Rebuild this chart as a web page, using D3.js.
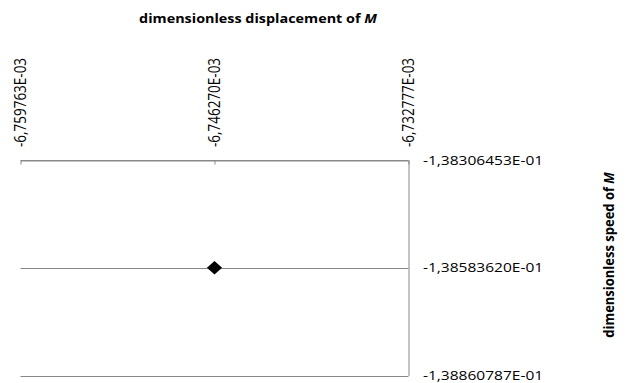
<!DOCTYPE html>
<html>
<head>
<meta charset="utf-8">
<script src="https://cdn.jsdelivr.net/npm/d3@7"></script>
<style>
  html, body { margin: 0; padding: 0; background: #fff; }
  svg { display: block; }
  text { font-family: "Open Sans", "DejaVu Sans", sans-serif; fill: #000; }
</style>
</head>
<body>
<svg id="chart" width="630" height="383"></svg>
<script>
// Tick values of the two axes
const xTicks = [-6.759763e-3, -6.746270e-3, -6.732777e-3];
const yTicks = [-1.38306453e-1, -1.38583620e-1, -1.38860787e-1];

// The single (displacement, speed) state of M
const pointX = [-6.746270e-3];
const pointY = [-1.38583620e-1];

const xTitle = "dimensionless displacement of ";
const yTitle = "dimensionless speed of ";
const symbolName = "M";

const plot = { left: 20.5, right: 408.5, top: 160, bottom: 375.5 };
const gridColor = "#888888";
const stretch = 1.15;   // text is set slightly wide

const svg = d3.select("#chart");

const x = d3.scaleLinear()
  .domain([d3.min(xTicks), d3.max(xTicks)])
  .range([plot.left, plot.right]);
const y = d3.scaleLinear()
  .domain([d3.min(yTicks), d3.max(yTicks)])
  .range([plot.bottom, plot.top]);

// Scientific notation with decimal comma and a two-digit exponent
function sci(digits) {
  return v => {
    const [m, e] = v.toExponential(digits).split("e");
    const sign = e[0] === "-" ? "-" : "+";
    const ex = Math.abs(+e).toString().padStart(2, "0");
    return m.replace(".", ",") + "E" + sign + ex;
  };
}
const fx = sci(6), fy = sci(8);

// Horizontal gridlines
svg.append("g")
  .selectAll("line")
  .data(yTicks)
  .join("line")
  .attr("x1", plot.left).attr("x2", plot.right)
  .attr("y1", d => Math.round(y(d)) + 0.5).attr("y2", d => Math.round(y(d)) + 0.5)
  .attr("stroke", gridColor).attr("stroke-width", 1);

// Top axis: line and inward ticks
const xAxis = svg.append("g")
  .attr("transform", `translate(0,${plot.top + 0.5})`)
  .call(d3.axisTop(x).tickValues(xTicks).tickSize(-4).tickSizeOuter(0).tickFormat(""));
xAxis.select(".domain").attr("stroke", gridColor);
xAxis.selectAll(".tick line").attr("stroke", gridColor);

// Top axis labels, rotated
svg.append("g")
  .selectAll("text")
  .data(xTicks)
  .join("text")
  .attr("transform", d => `translate(${x(d)},${plot.top - 13}) scale(${stretch},1) rotate(-90)`)
  .attr("dy", "0.35em")
  .attr("text-anchor", "start")
  .style("font-size", "13.5px")
  .text(fx);

// Right axis line
const yAxis = svg.append("g")
  .attr("transform", `translate(${plot.right},0)`)
  .call(d3.axisRight(y).tickValues(yTicks).tickSize(0).tickSizeOuter(0).tickFormat(""));
yAxis.select(".domain").attr("stroke", gridColor);

// Right axis labels
svg.append("g")
  .selectAll("text")
  .data(yTicks)
  .join("text")
  .attr("transform", d => `translate(${plot.right + 14.5},${y(d)}) scale(${stretch},1)`)
  .attr("dy", "0.35em")
  .style("font-size", "13.5px")
  .text(fy);

// Axis titles
const t1 = svg.append("text")
  .attr("transform", `translate(258,22.5) scale(${stretch},1)`)
  .attr("text-anchor", "middle")
  .style("font-size", "12.5px").style("font-weight", "bold");
t1.append("tspan").text(xTitle);
t1.append("tspan").style("font-style", "italic").text(symbolName);

const t2 = svg.append("text")
  .attr("transform", `translate(609,255) scale(${stretch},1) rotate(-90)`)
  .attr("text-anchor", "middle")
  .attr("dy", "0.35em")
  .style("font-size", "13px").style("font-weight", "bold");
t2.append("tspan").text(yTitle);
t2.append("tspan").style("font-style", "italic").text(symbolName);

// Data point: black diamond
svg.append("g")
  .selectAll("path")
  .data(pointX.map((v, i) => [v, pointY[i]]))
  .join("path")
  .attr("transform", d => `translate(${x(d[0])},${y(d[1])}) scale(1.12,1) rotate(45)`)
  .attr("d", d3.symbol().type(d3.symbolSquare).size(92))
  .attr("fill", "#000");
</script>
</body>
</html>
